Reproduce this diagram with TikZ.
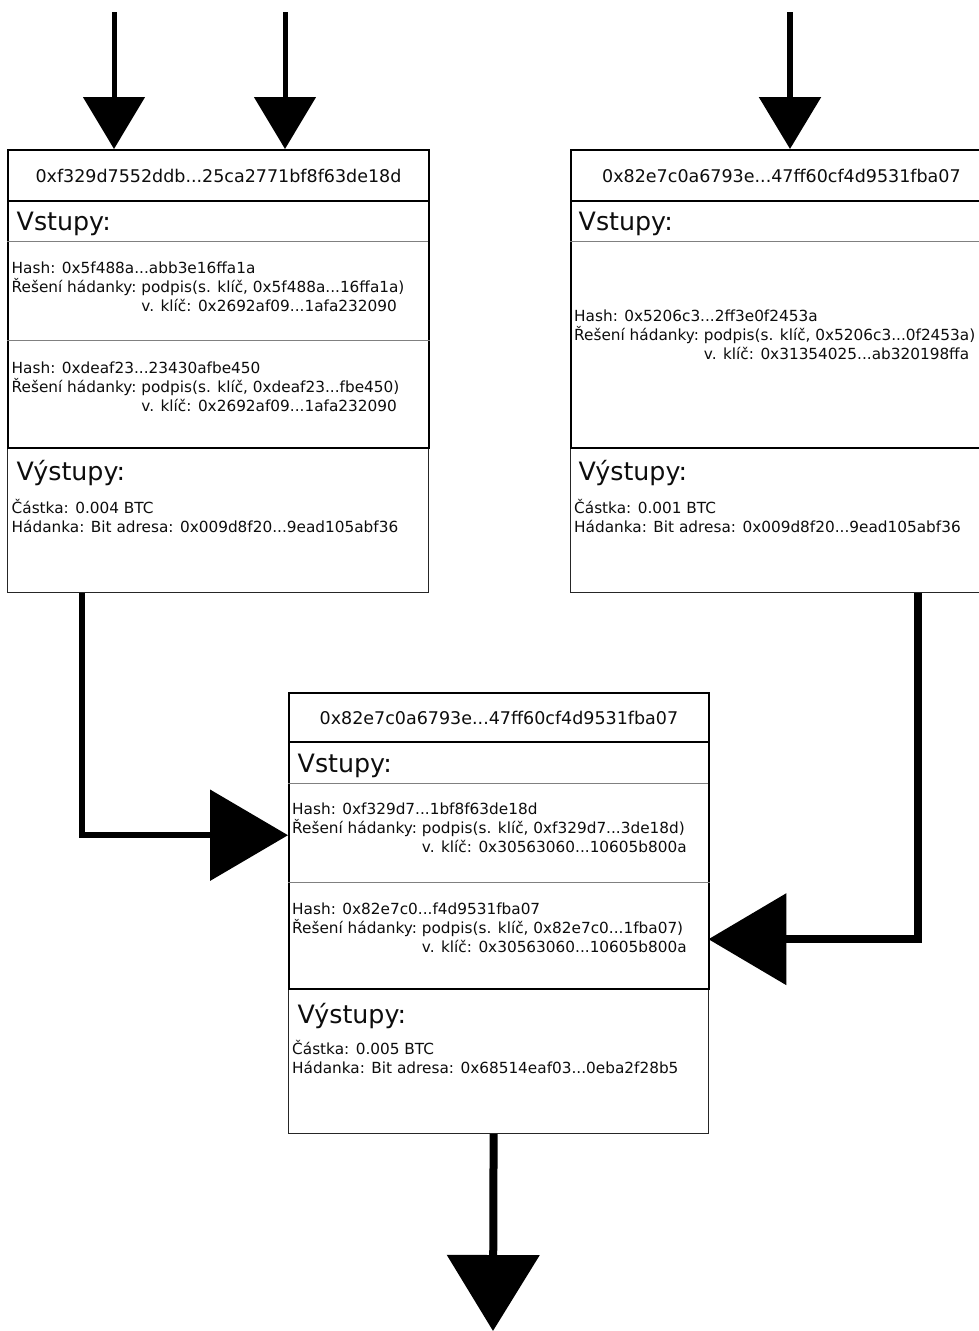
\documentclass[tikz,border=0pt]{standalone}
\usepackage{fontspec}
\setmainfont{DejaVu Sans}
\usetikzlibrary{arrows.meta,calc}

% three rows of one spent input: hash, unlocking script, public key
\newcommand\spendrows[3]{%
  \begin{tabular}[t]{@{}l@{\ }l@{}}
    \multicolumn{2}{@{}l@{}}{Hash: #1}\\
    Řešení hádanky: & podpis(s. klíč, #2)\\
    & v. klíč: #3
  \end{tabular}}
% two rows of one output: amount and locking script
\newcommand\payrows[2]{%
  \begin{tabular}[t]{@{}l@{}}
    Částka: #1\\
    Hádanka: Bit adresa: #2
  \end{tabular}}

\begin{document}
\begin{tikzpicture}[x=1pt,y=-1pt,
  part/.style={rectangle, inner sep=0pt, anchor=north west},
  headbox/.style={part, draw, line width=2pt, text=black!95,
    font=\fontsize{17.5}{21}\selectfont},
  inbox/.style={part, draw, line width=2pt},
  outbox/.style={part, draw=black!85, line width=1.2pt},
  slot/.style={part},
  rule/.style={line width=1pt, draw=black!50},
  heading/.style={anchor=base west, inner sep=0pt, text=black!95,
    font=\fontsize{25.3}{30}\selectfont},
  entry/.style={anchor=base west, inner sep=0pt, text=black!95,
    font=\fontsize{15.3}{19}\selectfont},
  feed/.style={line width=5pt, -{Triangle[length=52pt,width=61pt]}},
  link/.style={line width=6pt, -{Triangle[length=78pt,width=90pt]}},
]
\path[use as bounding box] (0,0) rectangle (979,1331);
\fill[white] (0,0) rectangle (979,1331);
\clip (0,0) rectangle (979,1331);

% ---------- transaction A (left) ----------
\node[outbox, minimum width=421pt, minimum height=145pt] (Aout) at (7,447) {};
\node[inbox, minimum width=421pt, minimum height=247pt] (Ain) at (7,200) {};
\node[headbox, minimum width=421pt, minimum height=51pt] (A) at (7,149)
  {0xf329d7552ddb...25ca2771bf8f63de18d};
\draw[rule] (7,241) -- (428,241);
\draw[rule] (7,340) -- (430,340);
\node[heading] (Avst) at (16.5,230) {Vstupy:};
\node[entry] (A1) at (11.5,273)
  {\spendrows{0x5f488a...abb3e16ffa1a}{0x5f488a...16ffa1a}{0x2692af09...1afa232090}};
\node[entry] (A2) at (11.5,373)
  {\spendrows{0xdeaf23...23430afbe450}{0xdeaf23...fbe450}{0x2692af09...1afa232090}};
\node[heading] (Avys) at (16.5,480) {Výstupy:};
\node[entry] (Apay) at (11.5,513)
  {\payrows{0.004 BTC}{0x009d8f20...9ead105abf36}};

% ---------- transaction B (right) ----------
\node[outbox, minimum width=421pt, minimum height=145pt] (Bout) at (570,447) {};
\node[inbox, minimum width=421pt, minimum height=247pt] (Bin) at (570,200) {};
\node[headbox, minimum width=421pt, minimum height=51pt] (B) at (570,149)
  {0x82e7c0a6793e...47ff60cf4d9531fba07};
\draw[rule] (570,241) -- (991,241);
\node[heading] (Bvst) at (578.5,230) {Vstupy:};
\node[entry] (B1) at (574,321)
  {\spendrows{0x5206c3...2ff3e0f2453a}{0x5206c3...0f2453a}{0x31354025...ab320198ffa}};
\node[heading] (Bvys) at (578.5,480) {Výstupy:};
\node[entry] (Bpay) at (574,513)
  {\payrows{0.001 BTC}{0x009d8f20...9ead105abf36}};

% ---------- transaction C (middle) ----------
\node[outbox, minimum width=420pt, minimum height=145pt] (Cout) at (288,988) {};
\node[inbox, minimum width=420pt, minimum height=247pt] (Cin) at (288,741) {};
\node[headbox, minimum width=420pt, minimum height=49pt] (C) at (288,692)
  {0x82e7c0a6793e...47ff60cf4d9531fba07};
\node[slot, minimum width=420pt, minimum height=104pt] (C1) at (288,783) {};
\node[slot, minimum width=420pt, minimum height=114pt] (C2) at (288,882) {};
\draw[rule] (288,783) -- (708,783);
\draw[rule] (288,882) -- (710,882);
\node[heading] (Cvst) at (297.5,772) {Vstupy:};
\node[entry] (Cs1) at (292,814)
  {\spendrows{0xf329d7...1bf8f63de18d}{0xf329d7...3de18d}{0x30563060...10605b800a}};
\node[entry] (Cs2) at (292,914)
  {\spendrows{0x82e7c0...f4d9531fba07}{0x82e7c0...1fba07}{0x30563060...10605b800a}};
\node[heading] (Cvys) at (297.5,1023) {Výstupy:};
\node[entry] (Cpay) at (292,1054)
  {\payrows{0.005 BTC}{0x68514eaf03...0eba2f28b5}};

% ---------- connectors ----------
\coordinate (t1) at (114,12);
\coordinate (t2) at (285,12);
\coordinate (t3) at (790,12);
\coordinate (sink) at (493,1331);
\draw[feed] (t1) -- (t1 |- A.north);
\draw[feed] (t2) -- (t2 |- A.north);
\draw[feed, line width=6pt] (t3) -- (t3 |- B.north);
\draw[link] ([xshift=75pt]Aout.south west) |- (C1.west);
\draw[link, line width=8pt] ([xshift=348pt]Bout.south west) |- (C2.east);
\draw[line width=8pt, -{Triangle[length=76pt,width=91pt]}]
  ([xshift=-5pt]Cout.south) -- (sink);
\end{tikzpicture}
\end{document}
